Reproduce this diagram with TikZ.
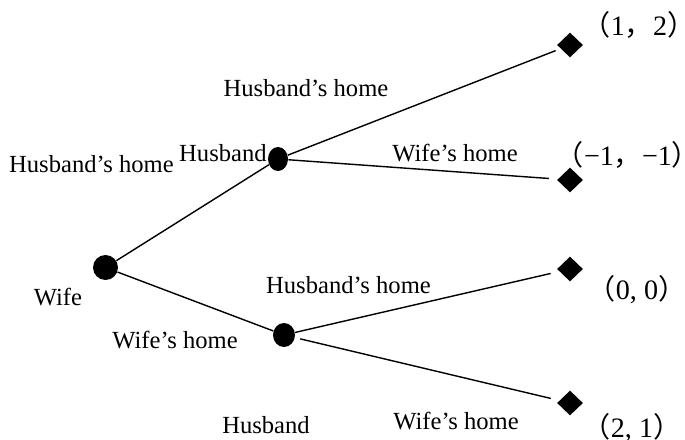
\documentclass[tikz,border=0pt]{standalone}
\usepackage{fontspec}
\setmainfont{Liberation Serif}
\newfontfamily\cjk{Noto Sans CJK SC}
\usetikzlibrary{shapes.geometric}
% payoff pair with full-width brackets
\newcommand\payoff[2]{{\cjk （}#1{\cjk ，}#2{\cjk ）}}
\newcommand\payoffh[2]{{\cjk （}#1, #2{\cjk ）}}

\begin{document}
\begin{tikzpicture}[x=0.02cm,y=-0.02cm,
	every node/.style={font=\fontsize{14}{16}\selectfont},
	decision/.style={ellipse,fill=black,inner sep=0pt},
	leaf/.style={diamond,fill=black,inner sep=0pt,minimum width=0.52cm,minimum height=0.5cm},
	branch/.style={line width=0.8pt},
	pay/.style={font=\fontsize{16}{18}\selectfont}]
	%% page frame
	\useasboundingbox (0,0) rectangle (685,439);
	
	\def\leafX{570} % column of the end points
	
	% decision points
	\node[decision,minimum width=0.5cm,minimum height=0.5cm] (wife) at (105.5,267.5) {};
	\node[decision,minimum width=0.4cm,minimum height=0.48cm] (husA) at (278,159) {};
	\node[decision,minimum width=0.44cm,minimum height=0.48cm] (husB) at (284,335) {};
	
	% end points
	\node[leaf] (endA) at (\leafX,45) {};
	\node[leaf] (endB) at (\leafX,180) {};
	\node[leaf] (endC) at (\leafX,269) {};
	\node[leaf] (endD) at (\leafX,403) {};
	
	% branches
	\draw[branch] (wife) -- (husA);
	\draw[branch] (wife) -- (husB);
	\draw[branch,shorten >=3pt] (husA) -- (endA);
	\draw[branch,shorten >=5pt] (husA) -- (endB);
	\draw[branch,shorten >=5pt] (husB) -- (endC);
	\draw[branch,shorten <=3pt,shorten >=5pt] (husB) -- (endD);
	
	% players
	\node (wifeL) at (58,297) {Wife};
	\node[anchor=east,inner sep=0pt] (husAL) at (267,153) {Husband};
	\node (husBL) at (266,425) {Husband};
	
	% actions
	\node (actA) at (91.5,164) {Husband’s home};
	\node (actB) at (175,340) {Wife’s home};
	\node (actC) at (306,88) {Husband’s home};
	\node (actD) at (455,153) {Wife’s home};
	\node (actE) at (348.5,285) {Husband’s home};
	\node (actF) at (456,421) {Wife’s home};
	
	% payoffs
	\node[pay] (payA) at (639,25) {\payoff{1}{2}};
	\node[pay] (payB) at (628,155) {\payoff{−1}{−1}};
	\node[pay] (payC) at (637,290) {\payoffh{0}{0}};
	\node[pay] (payD) at (632,428) {\payoffh{2}{1}};
\end{tikzpicture}
\end{document}
